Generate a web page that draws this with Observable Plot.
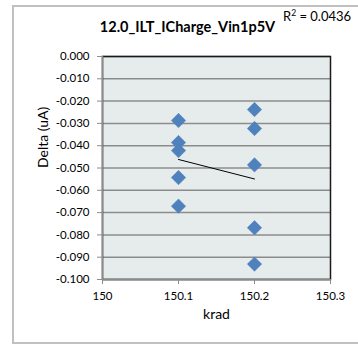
<!DOCTYPE html>
<html><head><meta charset="utf-8">
<script src="https://cdn.jsdelivr.net/npm/d3@7"></script>
<script src="https://cdn.jsdelivr.net/npm/@observablehq/plot@0.6"></script>
<style>
body{margin:0;background:#fff;font-family:Lato,"Open Sans",sans-serif;}
#wrap{position:relative;width:358px;height:348px;overflow:hidden;}
#border{position:absolute;left:12px;top:5px;width:360px;height:339px;border:2px solid #c0c0c0;box-sizing:border-box;}
#title{position:absolute;left:0;width:375px;top:18px;text-align:center;font-weight:bold;font-size:14.5px;color:#000;}
#r2{position:absolute;left:283px;top:8px;font-size:13px;color:#000;white-space:nowrap;}
#chart{position:absolute;left:0;top:0;}
</style></head>
<body>
<div id="wrap">
<div id="border"></div>
<div id="chart"></div>
<div id="title">12.0_ILT_ICharge_Vin1p5V</div>
<div id="r2">R<sup style="font-size:8.5px">2</sup> = 0.0436</div>
</div>
<script>
const krad = [150.1,150.1,150.1,150.1,150.1,150.2,150.2,150.2,150.2,150.2];
const delta = [-0.0287,-0.0386,-0.0422,-0.0543,-0.0671,-0.0238,-0.0323,-0.0486,-0.0768,-0.0931];
const xTicks = [150,150.1,150.2,150.3];
const yTicks = [0,-0.01,-0.02,-0.03,-0.04,-0.05,-0.06,-0.07,-0.08,-0.09,-0.1];
const data = krad.map((k,i)=>({krad:k, delta:delta[i]}));
const xFmt = d=>String(+d.toFixed(1));
const yFmt = d=>d3.format(".3f")(d).replace("−","-");

const chart = Plot.plot({
  width:358, height:348,
  marginLeft:102, marginRight:28, marginTop:56, marginBottom:69,
  style:{fontFamily:"Lato, 'Open Sans', sans-serif", fontSize:"11.5px", color:"#000", background:"transparent"},
  x:{domain:[150,150.3], ticks:xTicks, tickFormat:xFmt, label:null},
  y:{domain:[-0.1,0], ticks:yTicks, tickFormat:yFmt, label:null},
  marks:[
    Plot.frame({fill:"#e6ecec", stroke:null}),
    Plot.gridY(yTicks, {stroke:"#8c8c8c", strokeOpacity:1, strokeWidth:1.5}),
    Plot.frame({stroke:"#1a1a1a", strokeWidth:1.5}),
    Plot.ruleX([150], {stroke:"#8c8c8c", strokeWidth:1.5}),
    Plot.ruleY([-0.1], {stroke:"#8c8c8c", strokeWidth:1.5}),
    Plot.axisX({ticks:xTicks, tickFormat:xFmt, stroke:"#8c8c8c", fontSize:11.5, tickSize:5, tickPadding:7, label:null}),
    Plot.axisY({ticks:yTicks, tickFormat:yFmt, stroke:"#8c8c8c", fontSize:11.5, tickSize:5, tickPadding:8, label:null}),
    Plot.dot(data, {x:"krad", y:"delta", symbol:"diamond2", r:6.5, fill:"#4f81bd", stroke:"#4f81bd", strokeWidth:0.5}),
    Plot.linearRegressionY(data, {x:"krad", y:"delta", ci:0, stroke:"#000", strokeWidth:1}),
    Plot.text(["Delta (uA)"], {frameAnchor:"left", dx:-59, rotate:-90, fontSize:14, fill:"#000"}),
    Plot.text(["krad"], {frameAnchor:"bottom", dy:39, fontSize:14, fill:"#000"})
  ]
});
document.getElementById("chart").appendChild(chart);
</script>
</body></html>
